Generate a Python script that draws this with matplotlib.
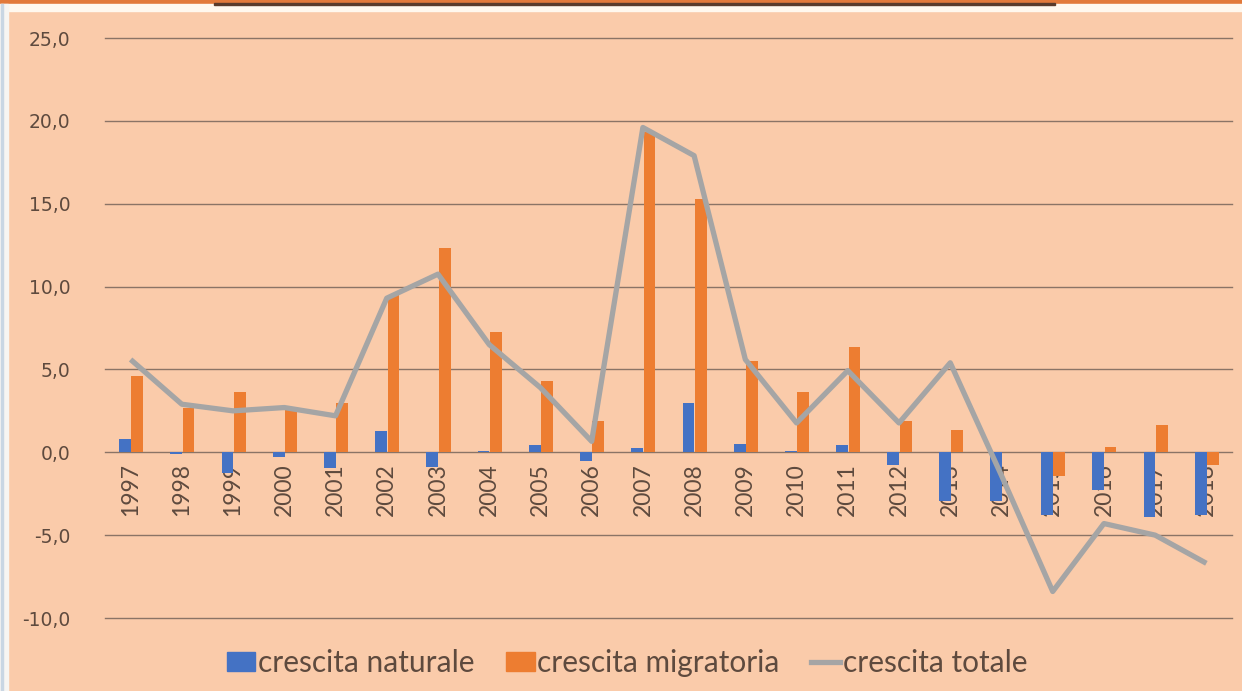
import matplotlib.pyplot as plt
import matplotlib.patches as mpatches
from matplotlib.lines import Line2D
from matplotlib.ticker import FuncFormatter
import numpy as np

anni = [str(a) for a in range(1997, 2019)]
naturale = [0.8, -0.1, -1.25, -0.3, -0.95, 1.27, -0.9, 0.1, 0.42, -0.5, 0.26,
            3.0, 0.5, 0.05, 0.42, -0.78, -2.96, -2.96, -3.8, -2.3, -3.9, -3.8]
migratoria = [4.63, 2.7, 3.64, 2.7, 3.0, 9.5, 12.3, 7.25, 4.3, 1.87, 19.3,
              15.3, 5.5, 3.64, 6.34, 1.87, 1.33, 0.0, -1.45, 0.32, 1.67, -0.78]
totale = [5.6, 2.9, 2.5, 2.7, 2.2, 9.3, 10.75, 6.5, 3.9, 0.66, 19.6,
          17.9, 5.6, 1.77, 4.93, 1.77, 5.4, -1.4, -8.4, -4.3, -5.0, -6.7]

BG = '#FACBAA'
BLU = '#4472C4'
ARANCIO = '#ED7D31'
GRIGIO = '#A5A5A5'
TESTO = '#5E4A3E'
GRIGLIA = '#8A7466'

fig = plt.figure(figsize=(12.42, 6.91), dpi=100)
fig.patch.set_facecolor(BG)

# cornice in alto e a sinistra
fig.patches.append(mpatches.Rectangle((0, 1 - 4/691), 1, 4/691, transform=fig.transFigure,
                                      color='#E2793A', zorder=0))
fig.patches.append(mpatches.Rectangle((0, 1 - 11/691), 1, 7/691, transform=fig.transFigure,
                                      color='#FFF8EE', zorder=0))
fig.patches.append(mpatches.Rectangle((214/1242, 1 - 5/691), (1055-214)/1242, 2/691,
                                      transform=fig.transFigure, color='#5A3A2A', zorder=1))
fig.patches.append(mpatches.Rectangle((0, 0), 8/1242, 1 - 4/691, transform=fig.transFigure,
                                      color='#F7F5F2', zorder=0))
fig.patches.append(mpatches.Rectangle((1/1242, 0), 2/1242, 1 - 4/691, transform=fig.transFigure,
                                      color='#C9D6E3', zorder=0))

ax = fig.add_axes([105/1242, 1 - 618/691, (1232-105)/1242, (618-38)/691])
ax.set_facecolor(BG)

x = np.arange(len(anni))
w = 0.23
ax.bar(x - 0.11, naturale, w, color=BLU, zorder=3)
ax.bar(x + 0.13, migratoria, w, color=ARANCIO, zorder=3)
ax.plot(x, totale, color=GRIGIO, lw=3.8, zorder=4, solid_capstyle='butt')

ax.set_xlim(-0.5, len(anni) - 0.5)
ax.set_ylim(-10, 25)
ax.set_yticks(np.arange(-10, 26, 5))
ax.yaxis.set_major_formatter(FuncFormatter(lambda v, p: ('%.1f' % v).replace('.', ',')))
ax.grid(axis='y', color=GRIGLIA, lw=1.0, zorder=1)
for gl in ax.get_ygridlines():
    gl.set_clip_on(False)

for s in ['top', 'right', 'left']:
    ax.spines[s].set_visible(False)
ax.spines['bottom'].set_position(('data', 0))
ax.spines['bottom'].set_visible(False)

ax.set_xticks(x)
ax.set_xticklabels(anni, rotation=90, fontsize=16.5, color=TESTO, family='Lato')
ax.tick_params(axis='x', length=0, pad=8)
ax.tick_params(axis='y', length=0, pad=25, labelsize=13.5, labelcolor=TESTO)

handles = [mpatches.Patch(color=BLU, label='crescita naturale'),
           mpatches.Patch(color=ARANCIO, label='crescita migratoria'),
           Line2D([0], [0], color=GRIGIO, lw=3.8, label='crescita totale')]
fig.legend(handles=handles, loc='center', bbox_to_anchor=(627/1242, 1 - 663/691), ncol=3,
           frameon=False, handlelength=0.95, handleheight=0.6, handletextpad=0.1,
           columnspacing=1.05, prop={'family': 'Lato', 'size': 21.5}, labelcolor=TESTO)

fig.savefig('out.png', dpi=100, facecolor=BG)
